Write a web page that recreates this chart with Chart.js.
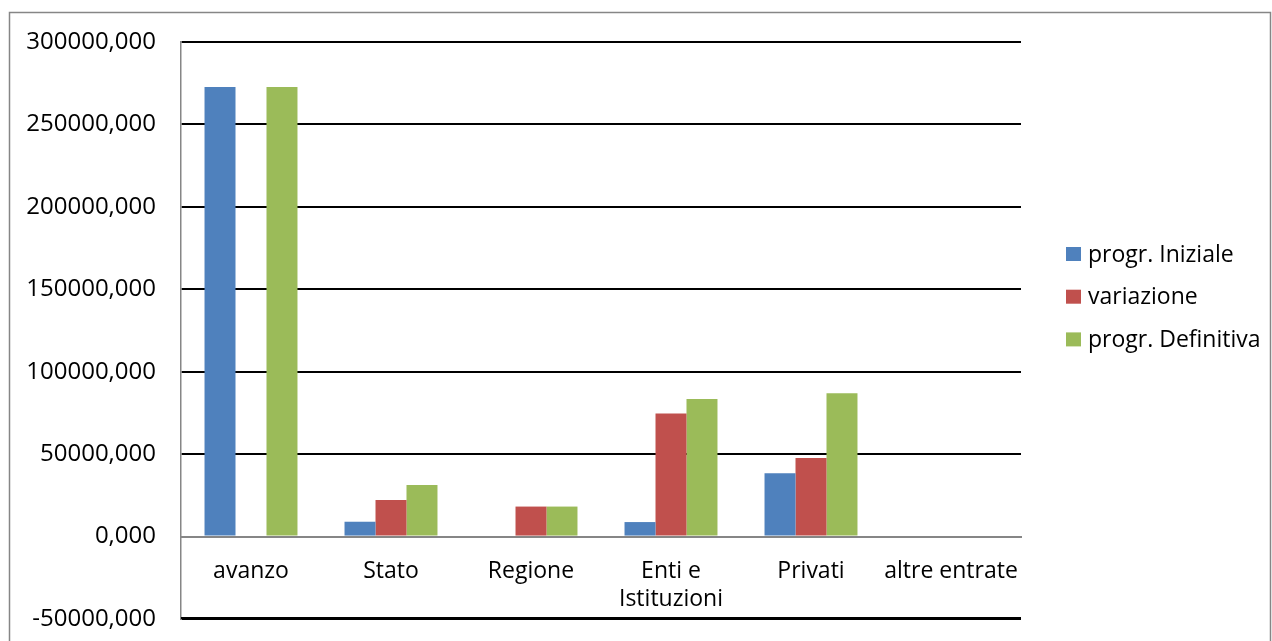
<!DOCTYPE html>
<html>
<head>
<meta charset="utf-8">
<script src="https://cdn.jsdelivr.net/npm/chart.js@4/dist/chart.umd.min.js"></script>
<style>
  html, body { margin: 0; padding: 0; background: #fff; }
  #wrap { width: 1272px; height: 641px; }
</style>
</head>
<body>
<div id="wrap"><canvas id="myChart" width="1272" height="641"></canvas></div>
<script>
const categories = ['avanzo', 'Stato', 'Regione', ['Enti e', 'Istituzioni'], 'Privati', 'altre entrate'];
const seriesNames = ['progr. Iniziale', 'variazione', 'progr. Definitiva'];
const progrIniziale = [272700, 9000, 0, 8800, 38400, 0];
const variazione = [0, 22200, 18200, 74700, 47700, 0];
const progrDefinitiva = [272700, 31300, 18200, 83500, 86900, 0];
const yTicks = [-50000, 0, 50000, 100000, 150000, 200000, 250000, 300000];

const colors = ['#4F81BD', '#C0504D', '#9BBB59'];
const family = 'Open Sans';

// outer frame of the chart object
const frame = {
  id: 'frame',
  beforeDraw(chart) {
    const ctx = chart.ctx;
    ctx.save();
    ctx.fillStyle = '#fff';
    ctx.fillRect(0, 0, chart.width, chart.height);
    ctx.strokeStyle = '#868686';
    ctx.lineWidth = 1.5;
    ctx.strokeRect(9.5, 12.5, 1261, 660);
    ctx.restore();
  },
  // make sure the bottom gridline (at the y minimum) shows
  afterDraw(chart) {
    const ctx = chart.ctx;
    const a = chart.chartArea;
    const y = chart.scales.y.getPixelForValue(yTicks[0]);
    ctx.save();
    ctx.strokeStyle = '#000';
    ctx.lineWidth = 2;
    ctx.beginPath();
    ctx.moveTo(a.left, y - 1);
    ctx.lineTo(a.right, y - 1);
    ctx.stroke();
    ctx.restore();
  },
};

// legend on the right, drawn at fixed offsets from the plot area
const sideLegend = {
  id: 'sideLegend',
  afterDraw(chart) {
    const ctx = chart.ctx;
    const x = chart.chartArea.right + 45;
    ctx.save();
    ctx.font = '23px ' + family;
    ctx.textBaseline = 'middle';
    chart.data.datasets.forEach((ds, i) => {
      const y = 254 + i * 42.7;
      ctx.fillStyle = ds.backgroundColor;
      ctx.fillRect(x, y - 7, 15, 14);
      ctx.fillStyle = '#000';
      ctx.fillText(ds.label, x + 22, y + 1);
    });
    ctx.restore();
  },
};

const ctx = document.getElementById('myChart');
const myChart = new Chart(ctx, {
  type: 'bar',
  data: {
    labels: categories,
    datasets: [progrIniziale, variazione, progrDefinitiva].map((d, i) => ({
      label: seriesNames[i],
      data: d,
      backgroundColor: colors[i],
      borderWidth: 0,
      barPercentage: 1,
      categoryPercentage: 0.664,
    })),
  },
  options: {
    responsive: false,
    animation: false,
    devicePixelRatio: 1,
    layout: {
      padding: { left: 10, top: 42, right: 251, bottom: 22 },
    },
    plugins: {
      legend: { display: false },
      tooltip: { enabled: false },
    },
    scales: {
      x: {
        position: { y: 0 },
        grid: { display: false, drawTicks: false },
        border: { display: true, color: '#868686', width: 2 },
        ticks: {
          color: '#000',
          font: { family, size: 23 },
          padding: 21,
          maxRotation: 0,
          autoSkip: false,
        },
      },
      y: {
        min: -50000,
        max: 300000,
        afterFit(scale) { scale.width = 171; },
        afterBuildTicks(scale) { scale.ticks = yTicks.map(v => ({ value: v })); },
        grid: {
          drawTicks: true,
          tickLength: 25,
          tickColor: 'rgba(0,0,0,0)',
          lineWidth: 2,
          color: c => (c.tick && c.tick.value === 0 ? '#868686' : '#000'),
        },
        border: { display: true, color: '#868686', width: 1.5 },
        ticks: {
          color: '#000',
          font: { family, size: 24 },
          padding: 0,
          callback: v => v.toFixed(3).replace('.', ','),
        },
      },
    },
  },
  plugins: [frame, sideLegend],
});
</script>
</body>
</html>
